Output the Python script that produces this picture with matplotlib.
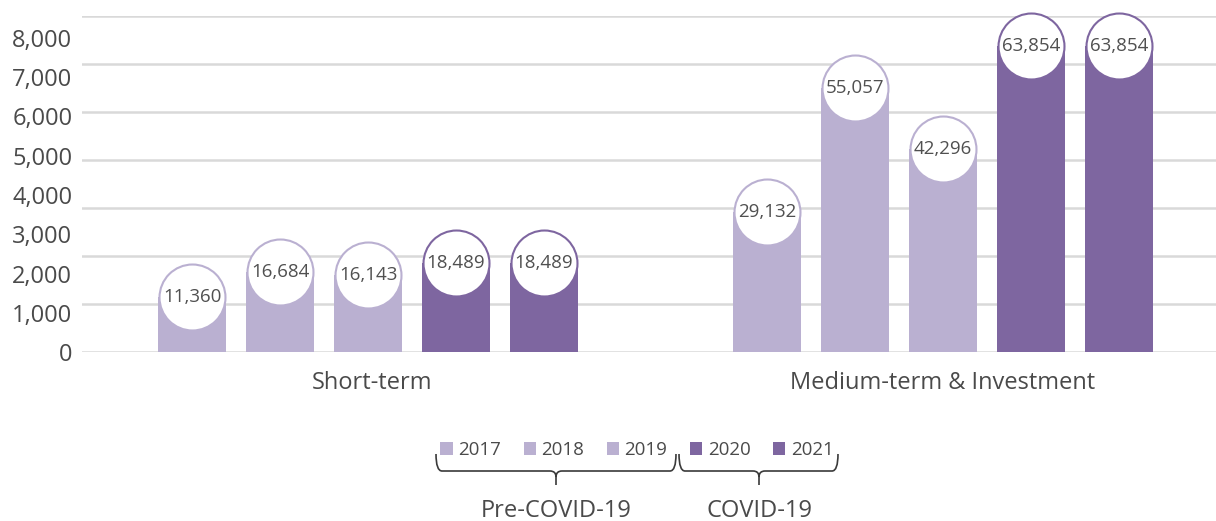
import numpy as np
import matplotlib.pyplot as plt
from matplotlib.path import Path
from matplotlib.patches import PathPatch

plt.rcParams['font.family'] = ['Open Sans', 'DejaVu Sans']

# values shown on the bars
categories = ['Short-term', 'Medium-term & Investment']
years = ['2017', '2018', '2019', '2020', '2021']
short_term = [11360, 16684, 16143, 18489, 18489]
medium_term = [29132, 55057, 42296, 63854, 63854]
# printed axis scale
axis_ticks = [0, 1000, 2000, 3000, 4000, 5000, 6000, 7000, 8000]
periods = ['Pre-COVID-19', 'COVID-19']

light = '#bab0d1'
dark = '#7e66a0'
colors = [light, light, light, dark, dark]
text_col = '#4a4a4a'

W, H = 1216, 521
fig = plt.figure(figsize=(W / 100, H / 100), dpi=100)
ax = fig.add_axes([82 / W, (H - 352) / H, 1 - 82 / W, 336 / H])

values = np.array([short_term, medium_term])
group_x = np.array([0.0, 6.534])
width = 0.78

for i, year in enumerate(years):
    x = group_x + (i - 2)
    v = values[:, i]
    ax.bar(x, v, width=width, color=colors[i], label=year, zorder=2)
    # rounded cap: white disc with the value
    ax.scatter(x, v, s=2256, facecolor='white', edgecolor=colors[i],
               linewidth=1.5, zorder=3, clip_on=False)
    for xx, vv in zip(x, v):
        ax.text(xx, vv, f'{vv:,}', ha='center', va='center',
                fontsize=13.5, color='#505050', zorder=4)

# axis labels printed on their own scale
ax2 = ax.twinx()
ax2.set_ylim(0, 8000 * 336 / 314)
ax2.set_yticks(axis_ticks, [f'{t:,}' for t in axis_ticks])
ax2.yaxis.tick_left()
ax2.tick_params(axis='y', length=0, pad=7, labelsize=17, labelcolor=text_col)
for s in ax2.spines.values():
    s.set_visible(False)

ax.set_xlim(-3.25, 9.636)
ax.set_ylim(0, 70000)
ax.set_yticks(np.arange(0, 70001, 10000))
ax.yaxis.grid(True, color='#d9d9d9', linewidth=1.8, zorder=0)
ax.set_axisbelow(True)
ax.tick_params(axis='y', left=False, right=False,
               labelleft=False, labelright=False)
ax.set_xticks(group_x + [0.05, 0], categories)
ax.tick_params(axis='x', length=0, pad=14, labelsize=17, labelcolor=text_col)
for s in ax.spines.values():
    s.set_visible(False)

leg = ax.legend(loc='center', bbox_to_anchor=(637 / W, (H - 450) / H),
                bbox_transform=fig.transFigure, ncol=5, frameon=False,
                fontsize=13.5, handlelength=0.65, handleheight=0.65,
                handletextpad=0.3, columnspacing=1.2)
for t in leg.get_texts():
    t.set_color(text_col)


def brace(x0, x1, xm, y_top=454, y_h=471, y_tip=485, r=6):
    # curly brace in pixel coordinates, top-left origin
    pts = [(x0, y_top), (x0, y_h), (x0 + r, y_h),
           (xm - r, y_h), (xm, y_h), (xm, y_h + r), (xm, y_tip),
           (xm, y_h + r), (xm, y_h), (xm + r, y_h),
           (x1 - r, y_h), (x1, y_h), (x1, y_top)]
    codes = [Path.MOVETO, Path.CURVE3, Path.CURVE3,
             Path.LINETO, Path.CURVE3, Path.CURVE3, Path.LINETO,
             Path.MOVETO, Path.CURVE3, Path.CURVE3,
             Path.LINETO, Path.CURVE3, Path.CURVE3]
    pts = [(px / W, (H - py) / H) for px, py in pts]
    fig.add_artist(PathPatch(Path(pts, codes), transform=fig.transFigure,
                             fill=False, edgecolor='#3a3a3a', linewidth=1.2))


brace(436, 676, 556)
brace(679, 838, 759)
fig.text(556 / W, (H - 511) / H, periods[0], ha='center', va='center',
         fontsize=17, color=text_col)
fig.text(759 / W, (H - 511) / H, periods[1], ha='center', va='center',
         fontsize=17, color=text_col)

fig.savefig('out.png', dpi=100)
